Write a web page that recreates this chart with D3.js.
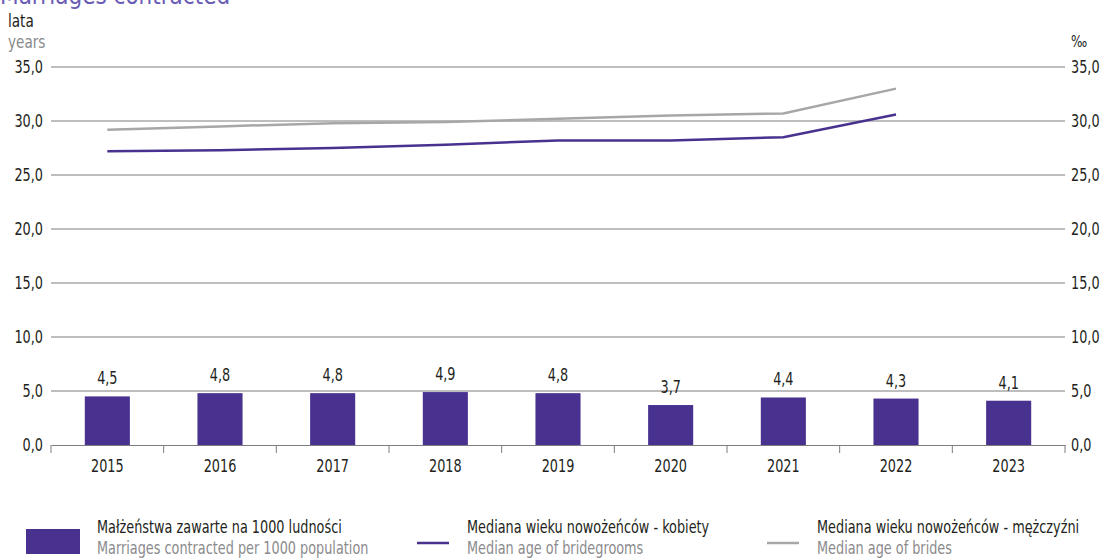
<!DOCTYPE html>
<html>
<head>
<meta charset="utf-8">
<script src="https://cdnjs.cloudflare.com/ajax/libs/d3/7.8.5/d3.min.js"></script>
<style>
    body { margin: 0; background: #fff; }
    svg text { font-family: "DejaVu Sans Condensed", "DejaVu Sans", sans-serif; }
</style>
</head>
<body>
<svg id="chart" width="1104" height="560"></svg>
<script>
//Chart data
const years = ["2015", "2016", "2017", "2018", "2019", "2020", "2021", "2022", "2023"];
const marriagesPer1000 = [4.5, 4.8, 4.8, 4.9, 4.8, 3.7, 4.4, 4.3, 4.1];
const medianAgeBridegrooms = [27.2, 27.3, 27.5, 27.8, 28.2, 28.2, 28.5, 30.6, null];
const medianAgeBrides = [29.2, 29.5, 29.8, 29.9, 30.2, 30.5, 30.7, 33.0, null];
const yTicks = [0, 5, 10, 15, 20, 25, 30, 35];

const legendItems = [
    {pl: "Małżeństwa zawarte na 1000 ludności", en: "Marriages contracted per 1000 population", kind: "bar", color: "#48318f"},
    {pl: "Mediana wieku nowożeńców - kobiety", en: "Median age of bridegrooms", kind: "line", color: "#48318f"},
    {pl: "Mediana wieku nowożeńców - mężczyźni", en: "Median age of brides", kind: "line", color: "#a7a7a9"}
];

let margin = {top: 67, right: 39, bottom: 115, left: 51},
    width = 1104 - margin.left - margin.right,
    height = 560 - margin.top - margin.bottom;

let svg = d3.select("#chart");

let g = svg.append("g")
    .attr("transform", "translate(" + margin.left + "," + margin.top + ")");

let pl = d3.formatLocale({decimal: ",", thousands: " ", grouping: [3], currency: ["", " zł"]});
let fmt = pl.format(".1f");

//Squeeze text horizontally to imitate the condensed face of the original
function condense(selection, k)
{
    selection.each(function() {
        let t = d3.select(this);
        let x = +t.attr("x") || 0,
            y = +t.attr("y") || 0;
        t.attr("x", 0).attr("y", 0)
            .attr("transform", "translate(" + x + "," + y + ") scale(" + k + ",1)");
    });
}

let xScale = d3.scaleBand()
    .domain(years)
    .range([0, width]);

let yScale = d3.scaleLinear()
    .domain([0, 35])
    .range([height, 0]);

//Add the gridlines
g.selectAll(".grid")
    .data(yTicks.filter(d => d > 0))
    .enter().append("line")
    .attr("class", "grid")
    .attr("x1", 0)
    .attr("x2", width)
    .attr("y1", d => yScale(d))
    .attr("y2", d => yScale(d))
    .attr("stroke", "#7d7d7d")
    .attr("stroke-width", 1);

//Add the left y axis
let yLeft = g.append("g")
    .call(d3.axisLeft(yScale).tickValues(yTicks).tickFormat(fmt).tickSize(0).tickPadding(8));
yLeft.select(".domain").remove();
yLeft.selectAll("text").attr("font-size", 17).attr("fill", "#231f20");

//Add the right y axis
let yRight = g.append("g")
    .attr("transform", "translate(" + width + ",0)")
    .call(d3.axisRight(yScale).tickValues(yTicks).tickFormat(fmt).tickSize(0).tickPadding(6));
yRight.select(".domain").remove();
yRight.selectAll("text").attr("font-size", 17).attr("fill", "#231f20");

//Add the bars
g.selectAll(".bar")
    .data(marriagesPer1000)
    .enter().append("rect")
    .attr("class", "bar")
    .attr("x", (d, i) => { return xScale(years[i]) + xScale.bandwidth() * 0.3; })
    .attr("width", xScale.bandwidth() * 0.4)
    .attr("y", (d) => { return yScale(d); })
    .attr("height", (d) => { return height - yScale(d); })
    .attr("fill", "#48318f");

//Add the bar labels
g.selectAll(".bar-label")
    .data(marriagesPer1000)
    .enter().append("text")
    .attr("class", "bar-label")
    .attr("x", (d, i) => { return xScale(years[i]) + xScale.bandwidth() / 2; })
    .attr("y", (d) => { return yScale(d) - 12; })
    .attr("text-anchor", "middle")
    .attr("font-size", 17)
    .attr("fill", "#231f20")
    .text(d => fmt(d));

//Add the x axis
let xAxis = g.append("g")
    .attr("transform", "translate(0," + height + ")")
    .call(d3.axisBottom(xScale).tickSize(0).tickPadding(15));
xAxis.select(".domain").attr("stroke", "#7d7d7d");
xAxis.selectAll("text").attr("font-size", 17).attr("fill", "#231f20");

//Tick marks between categories
g.selectAll(".xtick")
    .data(d3.range(years.length + 1))
    .enter().append("line")
    .attr("class", "xtick")
    .attr("x1", d => d * xScale.step())
    .attr("x2", d => d * xScale.step())
    .attr("y1", height)
    .attr("y2", height + 8)
    .attr("stroke", "#7d7d7d");

//Add the lines
let lineGraph = d3.line()
    .defined(d => d != null)
    .x((d, i) => { return xScale(years[i]) + xScale.bandwidth() / 2; })
    .y((d) => { return yScale(d); });

g.append("path")
    .datum(medianAgeBrides)
    .attr("fill", "none")
    .attr("stroke", "#a7a7a9")
    .attr("stroke-width", 2.5)
    .attr("d", lineGraph);

g.append("path")
    .datum(medianAgeBridegrooms)
    .attr("fill", "none")
    .attr("stroke", "#48318f")
    .attr("stroke-width", 2.5)
    .attr("d", lineGraph);

//Units
svg.append("text")
    .attr("x", 8).attr("y", 27)
    .attr("font-size", 18)
    .attr("fill", "#231f20")
    .text("lata");

svg.append("text")
    .attr("x", 8).attr("y", 48)
    .attr("font-size", 18)
    .attr("fill", "#8a8a8c")
    .text("years");

svg.append("text")
    .attr("x", 1071).attr("y", 47)
    .attr("font-size", 16)
    .attr("fill", "#231f20")
    .text("‰");

//Add the legend
let legendX = [26, 417, 767];
let legend = svg.selectAll(".legend")
    .data(legendItems)
    .enter().append("g")
    .attr("class", "legend")
    .attr("transform", (d, i) => { return "translate(" + legendX[i] + ",0)"; });

legend.filter(d => d.kind === "bar").append("rect")
    .attr("x", 0).attr("y", 529)
    .attr("width", 54).attr("height", 25)
    .attr("fill", d => d.color);

legend.filter(d => d.kind === "line").append("line")
    .attr("x1", 0).attr("x2", 32)
    .attr("y1", 543).attr("y2", 543)
    .attr("stroke", d => d.color)
    .attr("stroke-width", 2.5);

legend.append("text")
    .attr("x", d => d.kind === "bar" ? 71 : 50)
    .attr("y", 533)
    .attr("font-size", 17)
    .attr("fill", "#231f20")
    .text(d => d.pl);

legend.append("text")
    .attr("x", d => d.kind === "bar" ? 71 : 50)
    .attr("y", 554)
    .attr("font-size", 17)
    .attr("fill", "#8a8a8c")
    .text(d => d.en);

condense(svg.selectAll("text"), 0.84);

//Title, cut off at the top edge as in the original
svg.append("text")
    .attr("x", 0).attr("y", 4)
    .attr("font-size", 24)
    .attr("fill", "#6b5cb5")
    .text("Marriages contracted");
</script>
</body>
</html>
